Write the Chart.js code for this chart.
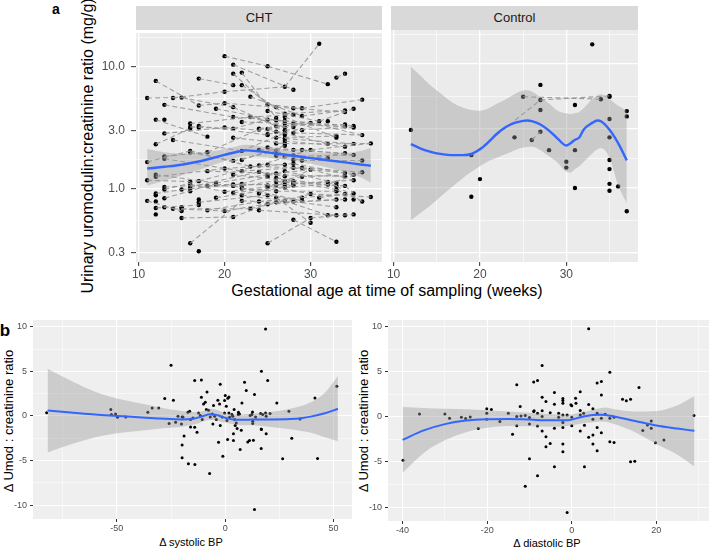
<!DOCTYPE html>
<html>
<head>
<meta charset="utf-8">
<script src="https://cdn.jsdelivr.net/npm/chart.js@4.4.1/dist/chart.umd.min.js"></script>
<style>
  body { margin: 0; width: 710px; height: 550px; background: #fff; position: relative; overflow: hidden;
         font-family: "Liberation Sans", Arial, Helvetica, sans-serif; }
  canvas { position: absolute; }
  .t { position: absolute; white-space: nowrap; color: #000; line-height: 1; transform: translate(-50%, -50%); }
  .rot { transform: translate(-50%, -50%) rotate(-90deg); }
  .strip { position: absolute; background: #d9d9d9; color: #1a1a1a; font-size: 13px; text-align: center; line-height: 24px; height: 24px; }
</style>
</head>
<body>
<div class="t" style="left:56px;top:9px;font-size:14px;font-weight:bold">a</div>
<div class="strip" style="left:136px;top:6px;width:246px">CHT</div>
<div class="strip" style="left:391px;top:6px;width:247px">Control</div>
<div class="t rot" style="left:88px;top:146px;font-size:16px">Urinary uromodulin:creatinine ratio (mg/g)</div>
<div class="t" style="left:387px;top:291px;font-size:16px">Gestational age at time of sampling (weeks)</div>
<div class="t" style="left:5px;top:330px;font-size:17px;font-weight:bold">b</div>
<div class="t rot" style="left:8px;top:421px;font-size:13px">Δ Umod : creatinine ratio</div>
<div class="t" style="left:191px;top:542px;font-size:11px">Δ systolic BP</div>
<div class="t rot" style="left:363px;top:421px;font-size:13px">Δ Umod : creatinine ratio</div>
<div class="t" style="left:547px;top:543px;font-size:11px">Δ diastolic BP</div>

<script>
const FONT = '"Liberation Sans", Arial, Helvetica, sans-serif';

// ---- panel a: CHT, samples grouped by gestational week
const chtWeeks = [11, 12, 13, 14, 15, 16, 17, 18, 19, 20, 21, 22, 23, 24, 25, 26, 27, 28, 29, 30, 31, 32, 33, 34, 35, 36, 37];
const chtValues = [
  [5.55, 1.66, 1.18, 0.80],
  [7.66, 3.69, 2.32, 1.31, 1.26, 0.92, 0.89, 0.79, 0.70, 0.62],
  [4.88, 3.69, 2.85, 1.85, 1.77, 1.04, 0.99, 0.84, 0.71],
  [5.55, 2.52, 0.69],
  [5.59, 0.99, 0.71, 0.69, 0.66, 0.58],
  [3.43, 3.22, 3.12, 2.05, 1.99, 1.15, 1.09, 1.04, 1.01, 0.96, 0.36],
  [8.0, 4.82, 3.28, 3.18, 1.16, 0.82, 0.78, 0.74, 0.31],
  [2.68, 2.00, 1.40, 1.06, 0.67],
  [4.53, 1.12, 1.09, 0.85],
  [12.2, 6.25, 5.03, 3.18, 1.47, 0.95, 0.66],
  [10.4, 8.78, 7.07, 4.67, 3.88, 3.12, 2.63, 1.70, 1.31, 1.09, 1.06, 0.93, 0.59],
  [8.95, 7.07, 3.53, 2.05, 1.73, 1.40, 1.10, 1.06, 1.01, 0.89, 0.80],
  [5.69, 3.88, 1.53, 0.69],
  [3.12, 3.07, 2.09, 1.56, 1.38, 0.92, 0.79, 0.67],
  [10.1, 4.91, 4.34, 3.69, 3.10, 2.81, 2.76, 2.19, 1.58, 1.31, 1.26, 1.07, 1.04, 0.89, 0.75, 0.36],
  [4.67, 3.81, 3.65, 3.28, 2.94, 2.63, 2.36, 2.05, 1.87, 1.34, 1.23, 1.15, 1.08, 0.96, 0.85, 0.78],
  [6.85, 4.13, 3.88, 3.60, 3.43, 3.22, 3.03, 2.88, 2.76, 2.59, 2.47, 2.36, 2.26, 1.85, 1.58, 1.40, 1.27, 1.16, 1.09, 1.03, 0.80],
  [6.49, 4.58, 4.05, 3.43, 3.22, 2.88, 2.09, 1.88, 1.73, 1.61, 1.49, 1.16, 1.11, 1.07, 0.79, 0.56],
  [4.58, 3.95, 3.03, 2.09, 1.71, 1.49, 1.26, 0.85, 0.80],
  [3.47, 2.09, 1.44, 0.91, 0.58, 0.53],
  [15.4, 3.58, 0.85],
  [7.2, 3.58, 2.34, 1.79, 1.14, 1.09, 0.61],
  [8.15, 2.71, 2.63, 1.12, 1.06, 0.99, 0.96, 0.82, 0.71, 0.61, 0.37],
  [8.78, 4.39, 4.26, 3.37, 3.26, 2.22, 1.96, 1.35, 1.27, 1.06, 0.91, 0.82, 0.61],
  [4.53, 3.28, 3.18, 2.34, 1.90, 1.31, 1.18, 0.92, 0.82, 0.62],
  [5.38, 2.76, 1.71, 1.37, 0.79],
  [2.36, 0.86]
];
// repeated samples of the same woman: [week1, value1, week2, value2]
const chtLinks = [
  [11, 5.55, 15, 5.59], [11, 1.66, 16, 2.05], [11, 1.18, 16, 1.15], [11, 0.80, 15, 0.66],
  [12, 7.66, 17, 4.82], [12, 3.69, 18, 2.68], [12, 2.32, 16, 3.12], [12, 1.31, 19, 1.12],
  [12, 0.92, 16, 1.01], [12, 0.70, 17, 0.74], [13, 4.88, 21, 3.88], [13, 2.85, 20, 3.18],
  [13, 1.85, 18, 2.00], [13, 1.04, 19, 1.09], [13, 0.84, 18, 1.06], [13, 1.77, 22, 1.40],
  [14, 2.52, 22, 2.05], [14, 0.69, 20, 0.66], [15, 5.59, 21, 4.67], [15, 0.99, 22, 1.10],
  [15, 0.58, 21, 0.59], [16, 3.43, 23, 3.88], [16, 1.99, 21, 1.70], [16, 1.04, 24, 1.38],
  [16, 0.36, 22, 0.80], [16, 3.22, 21, 3.12], [17, 8.0, 21, 7.07], [17, 3.28, 25, 2.76],
  [17, 1.16, 24, 1.56], [17, 0.78, 25, 0.89], [18, 1.40, 26, 1.34], [18, 0.67, 24, 0.79],
  [18, 2.00, 24, 3.07], [19, 4.53, 26, 3.65], [19, 0.85, 27, 1.03], [19, 1.09, 26, 1.08],
  [20, 12.2, 25, 10.1], [20, 6.25, 27, 6.85], [20, 5.03, 26, 4.67], [20, 1.47, 28, 1.61],
  [20, 0.95, 25, 1.04], [21, 10.4, 28, 6.49], [21, 8.78, 25, 4.91], [21, 2.63, 27, 2.36],
  [21, 1.31, 28, 1.16], [21, 1.06, 29, 0.80], [22, 8.95, 26, 3.81], [22, 3.53, 28, 3.43],
  [22, 1.73, 27, 2.26], [22, 1.01, 26, 0.96], [22, 2.05, 27, 2.88], [23, 5.69, 29, 3.95],
  [23, 1.53, 29, 1.49], [23, 0.69, 30, 0.91], [23, 3.88, 28, 4.05], [24, 3.12, 30, 3.47],
  [24, 2.09, 29, 2.09], [24, 0.92, 30, 1.44], [24, 0.67, 33, 0.61], [24, 1.56, 30, 2.09],
  [25, 10.1, 32, 7.2], [25, 4.34, 31, 3.58], [25, 3.10, 32, 2.34], [25, 2.19, 28, 2.09],
  [25, 1.31, 34, 1.27], [25, 0.36, 30, 0.58], [26, 3.28, 34, 3.37], [26, 2.63, 33, 2.71],
  [26, 1.87, 32, 1.79], [26, 1.23, 33, 1.06], [26, 0.85, 30, 0.53], [27, 6.85, 31, 15.4],
  [27, 4.13, 34, 4.39], [27, 3.03, 35, 3.18], [27, 1.85, 35, 1.90], [27, 1.40, 33, 1.12],
  [27, 0.80, 32, 0.61], [28, 4.58, 34, 4.26], [28, 2.88, 36, 2.76], [28, 1.73, 34, 1.96],
  [28, 1.11, 35, 1.18], [28, 0.56, 33, 0.37], [29, 4.58, 36, 5.38], [29, 1.71, 36, 1.71],
  [29, 1.26, 35, 1.31], [29, 0.85, 34, 0.91], [30, 2.09, 37, 2.36], [30, 0.91, 37, 0.86],
  [31, 3.58, 35, 4.53], [32, 1.09, 36, 1.37], [33, 8.15, 34, 8.78], [33, 0.99, 36, 0.79],
  [34, 1.06, 35, 0.92],
  [20, 3.18, 26, 2.94], [20, 0.66, 27, 0.80], [21, 4.67, 26, 3.28], [21, 3.88, 27, 3.60],
  [21, 3.12, 25, 3.69], [21, 1.70, 26, 2.05], [21, 1.09, 27, 1.09], [21, 0.93, 28, 1.07],
  [21, 0.59, 25, 0.75], [22, 7.07, 27, 4.13], [22, 1.40, 28, 1.49], [22, 1.10, 25, 1.26],
  [22, 1.06, 29, 1.26], [22, 0.89, 28, 0.79], [22, 0.80, 26, 0.78], [23, 3.88, 27, 3.22],
  [24, 3.07, 28, 3.22], [24, 1.38, 27, 1.27], [24, 0.79, 29, 0.85], [25, 4.91, 29, 4.58],
  [25, 3.69, 30, 3.47], [25, 2.81, 29, 3.03], [25, 1.58, 27, 1.58], [25, 1.07, 30, 0.91],
  [25, 0.89, 29, 0.80], [25, 0.75, 33, 0.82], [26, 4.67, 28, 4.58], [26, 3.65, 35, 3.28],
  [26, 2.36, 32, 2.34], [26, 2.05, 29, 1.71], [26, 1.34, 30, 1.44], [26, 1.15, 34, 1.06],
  [26, 1.08, 32, 1.14], [26, 0.96, 33, 0.96], [26, 0.78, 34, 0.82], [27, 3.88, 33, 2.63],
  [27, 3.43, 34, 3.26], [27, 2.59, 35, 2.34], [27, 2.47, 34, 2.22], [27, 1.16, 33, 0.99],
  [27, 1.03, 32, 1.09], [28, 3.43, 35, 3.18], [28, 2.09, 34, 1.96], [28, 1.61, 35, 1.31],
  [28, 1.49, 34, 1.35], [28, 0.79, 33, 0.71], [29, 3.95, 34, 4.39], [29, 2.09, 35, 1.90],
  [29, 1.49, 36, 1.37], [30, 3.47, 36, 2.76], [30, 1.44, 35, 1.18], [30, 0.58, 35, 0.62],
  [32, 2.34, 37, 2.36], [32, 0.61, 33, 0.61], [31, 0.85, 34, 0.91], [33, 1.06, 36, 0.79],
  [12, 1.26, 20, 1.47], [13, 0.99, 17, 1.16], [15, 0.69, 23, 0.69], [16, 2.05, 23, 1.53],
  [17, 4.82, 20, 5.03], [18, 1.06, 22, 1.06], [19, 1.12, 25, 1.31], [14, 5.55, 20, 6.25],
  [16, 1.09, 20, 0.95]
];
const chtFitX  = [11, 13, 15, 17, 19, 21, 22.5, 24, 26, 28, 30, 32, 34, 36, 37];
const chtFitY  = [1.47, 1.52, 1.58, 1.68, 1.82, 1.98, 2.07, 2.03, 1.95, 1.87, 1.79, 1.72, 1.65, 1.58, 1.55];
const chtFitHi = [2.12, 2.00, 1.95, 1.98, 2.06, 2.20, 2.30, 2.25, 2.13, 2.05, 2.00, 1.98, 1.98, 2.06, 2.16];
const chtFitLo = [1.07, 1.17, 1.29, 1.43, 1.60, 1.77, 1.86, 1.84, 1.78, 1.70, 1.61, 1.50, 1.38, 1.23, 1.13];

// ---- panel a: Control
const ctlWeeks = [12, 19, 20, 24, 25, 26, 27, 28, 30, 31, 33, 34, 35, 36, 37];
const ctlValues = [
  [2.94], [1.84, 0.85], [1.18], [2.56], [5.45], [2.44], [6.78, 5.12, 4.26, 2.84], [2.02],
  [1.63, 1.46], [4.67, 2.02, 1.0], [14.4], [5.2], [5.53, 5.45, 3.6, 2.56, 1.68, 1.42, 1.08, 0.95],
  [1.03], [4.17, 3.78, 0.65]
];
const ctlLinks = [[19, 1.84, 27, 5.12], [25, 5.45, 34, 5.2], [27, 5.12, 35, 5.53], [26, 2.44, 27, 2.84]];
const ctlFitX  = [12, 13, 14, 15, 16, 17, 18, 19, 20, 21, 22, 23, 24, 25, 25.5, 26, 27, 28, 29, 30, 30.5, 31, 31.5, 32, 33, 33.6, 34, 35, 36, 37];
const ctlFitY  = [2.26, 2.1, 1.98, 1.9, 1.86, 1.84, 1.84, 1.88, 2.05, 2.35, 2.75, 3.1, 3.35, 3.48, 3.5, 3.46, 3.25, 2.9, 2.5, 2.2, 2.3, 2.45, 2.55, 2.95, 3.35, 3.5, 3.45, 2.95, 2.3, 1.67];
const ctlFitHi = [9.5, 8.2, 7.0, 6.1, 5.4, 4.8, 4.45, 4.25, 4.2, 4.4, 4.8, 5.2, 5.7, 6.1, 6.15, 6.0, 5.4, 4.8, 4.2, 4.0, 3.95, 4.0, 4.1, 4.4, 5.2, 5.6, 5.7, 5.2, 4.6, 4.2];
const ctlFitLo = [0.55, 0.62, 0.70, 0.80, 0.92, 1.05, 1.2, 1.35, 1.5, 1.65, 1.76, 1.88, 2.02, 2.12, 2.14, 2.15, 2.02, 1.8, 1.6, 1.35, 1.33, 1.42, 1.5, 1.62, 1.9, 2.05, 2.1, 1.75, 1.05, 0.75];

const aXTicks = [10, 15, 20, 25, 30, 35];
const aXMajor = [10, 20, 30];
const aYTicks = [0.3, 0.5477, 1, 1.732, 3, 5.477, 10, 17.32];
const aYMajor = [0.3, 1, 3, 10];

// ---- panel b: [delta BP, delta Umod:creatinine]
const sbpPoints = [
  [-82.4, 0.37], [-52.8, 0.71], [-52.5, 0.15], [-50.6, 0.22], [-49.7, -0.15], [-45.9, -0.11], [-35.7, 0.41],
  [-33.7, 0.9], [-30.7, 0.9], [-27.9, 1.94], [-25.9, -0.86], [-25, 5.67], [-23.9, 1.75], [-22.9, -0.71],
  [-21.8, -0.04], [-20.2, -0.9], [-19.9, -0.11], [-19.5, -0.11], [-19, -2.24], [-19.9, -3.25], [-19.9, -4.7],
  [-17.2, 0.41], [-16.4, 0.52], [-17, -5.37], [-16, -0.41], [-16, -1.23], [-14.9, -0.22], [-14.1, 3.96],
  [-14.1, -1.27], [-14, -5.45], [-13, -1.83], [-12.3, 0.34], [-11.5, 0.04], [-11, 4.03], [-11, 2.09],
  [-10, 1.34], [-10.6, -0.41], [-9.2, 1.53], [-8.7, 0.71], [-8.4, 2.69], [-7.7, 0.63], [-7.2, -6.46],
  [-6.9, -0.11], [-6, 0.22], [-5.4, 1.16], [-5.7, -0.9], [-4.9, -0.04], [-4.1, -0.41], [-3.4, 1.75],
  [-3.1, -2.95], [-2.6, 1.34], [-2.3, 3.54], [-2.3, -1.08], [-1.4, -0.11], [-1.1, -4.51], [-0.3, 1.72],
  [-0.3, 0.34], [0, 2.28], [0.5, 1.08], [0.8, -0.52], [1.1, -2.65], [1.2, 1.98], [1.7, 2.13], [1.7, 0.34],
  [2, -0.15], [3.1, 0.15], [3.5, -0.04], [3.8, -2.01], [3.8, -2.76], [4.1, 0.71], [4.3, -0.41], [4.6, -1.08],
  [5.1, -0.78], [5.5, -1.42], [6, 0.15], [6.1, 0.41], [6.6, 0.22], [6.9, -3.77], [7.7, 1.46], [7.4, -1.6],
  [8.9, 3.77], [9.7, 2.84], [10.4, -2.91], [11.2, -2.76], [11.5, 0.04], [12.3, 0.15], [12.6, 0.45],
  [12.7, -0.6], [12.7, -0.86], [13, -2.72], [13.5, 2.39], [13.5, -10.49], [14, -0.11], [16.3, 0.26],
  [16.6, -1.46], [16.6, -3.66], [16.7, 5.0], [16.7, -1.53], [17.3, 0.15], [18.6, 9.74], [18.6, 0.34],
  [18.9, -0.04], [18.9, -2.01], [19.6, 3.96], [20.7, 0.26], [23.8, 1.46], [26.5, -4.81], [29.4, 0.52],
  [30.7, -2.5], [34.5, -0.34], [41.4, 2.01], [42.6, -4.78], [51.5, 3.32]
];
const sbpFitX  = [-82, -70, -60, -50, -40, -30, -20, -15, -12, -10, -7, -4, -2, 0, 5, 10, 12, 20, 30, 35, 40, 46, 52];
const sbpFitY  = [0.6, 0.35, 0.15, 0.0, -0.15, -0.3, -0.4, -0.32, -0.15, 0.0, 0.18, 0.12, -0.05, -0.2, -0.42, -0.42, -0.41, -0.4, -0.35, -0.25, -0.05, 0.3, 0.8];
const sbpFitHi = [5.3, 3.8, 2.7, 1.95, 1.45, 0.95, 0.55, 0.45, 0.45, 0.55, 0.8, 0.7, 0.5, 0.35, 0.15, 0.22, 0.25, 0.4, 0.8, 1.1, 1.6, 2.6, 4.5];
const sbpFitLo = [-4.1, -3.1, -2.4, -1.95, -1.7, -1.4, -1.2, -1.0, -0.8, -0.6, -0.45, -0.5, -0.65, -0.75, -1.0, -1.05, -1.05, -1.2, -1.5, -1.7, -1.9, -2.4, -2.85];

const dbpPoints = [
  [-39.9, -4.8], [-36, 0.33], [-30, 0.33], [-28.9, -0.15], [-26.1, -0.04], [-25.1, -0.19], [-24, 0],
  [-22.1, -1.3], [-20.1, 0.89], [-20.1, 0.41], [-20.1, -0.26], [-19, 0.82], [-17, -0.52], [-15, 0.41],
  [-14, -1.93], [-13, 3.57], [-13, 0.04], [-13, -0.97], [-12.2, 1.15], [-12, 0.11], [-11, 0.15], [-11, -7.7],
  [-10, -0.07], [-10, -0.78], [-10, -4.65], [-9, 3.87], [-9, 0.59], [-8.9, 0.67], [-8.1, 4.05], [-8.1, 0.41],
  [-8.1, -1.0], [-8.1, -6.54], [-7, 5.69], [-7, 2.19], [-7, 0.67], [-7, 0.04], [-7, -1.56], [-6.1, 1.71],
  [-6.1, -2.19], [-6.1, -3.31], [-5.1, 0.45], [-5.1, -2.94], [-4.1, 2.71], [-4.1, 1.41], [-4.1, -1.26],
  [-4.1, -5.54], [-3.1, 0.41], [-3.1, -0.04], [-2.1, 2.04], [-2.1, 1.82], [-2.1, 1.52], [-2.1, 0.22],
  [-2.1, -0.63], [-2.1, -1.19], [-2.1, -3.01], [-2.1, -3.87], [-1.1, 0.22], [-1.1, -10.6], [-0.2, 1.34],
  [0, 1.23], [0, -0.04], [0, -0.97], [0.9, 2.08], [1, 1.52], [2, 2.79], [2, 0.71], [2, 0.22], [2, -1.56],
  [2.8, 0.41], [3, -0.93], [3, -5.54], [4, 1.38], [4, -2.27], [4, 9.78], [5, 0.89], [5, -0.26], [5, -2.0],
  [5, -3.01], [6, 3.75], [6, 0.41], [6, -1.19], [6, -3.75], [7, 3.94], [7, 2.42], [7, -0.15], [7, -1.75],
  [7.9, 0.3], [9, 4.94], [9, -0.15], [9, -2.75], [10, -0.04], [10, -2.83], [12, 1.97], [12.9, 1.78],
  [13.9, 1.97], [13.9, -4.98], [14.9, -4.91], [15.9, 3.27], [16.8, -1.52], [17.9, -0.89], [18.8, -0.45],
  [18.8, -1.26], [19.8, -2.86], [21.8, -2.57], [28.9, 0.15]
];
const dbpFitX  = [-40, -35, -30, -25, -20, -15, -10, -5, -1, 2, 5, 7, 8, 10, 15, 20, 25, 29];
const dbpFitY  = [-2.55, -1.5, -0.8, -0.4, -0.25, -0.22, -0.3, -0.38, -0.38, -0.05, 0.2, 0.25, 0.22, 0.05, -0.45, -0.95, -1.3, -1.55];
const dbpFitHi = [1.1, 1.0, 0.9, 0.85, 0.75, 0.6, 0.45, 0.3, 0.25, 0.5, 0.8, 1.0, 1.05, 0.85, 0.6, 0.65, 1.3, 2.3];
const dbpFitLo = [-6.2, -4.0, -2.6, -1.7, -1.2, -1.0, -1.05, -1.1, -1.0, -0.75, -0.6, -0.5, -0.55, -0.8, -1.7, -3.0, -4.2, -5.5];

const bYTicks = [-10, -7.5, -5, -2.5, 0, 2.5, 5, 7.5, 10];
const bYMajor = [-10, -5, 0, 5, 10];
const sbpTicks = [-75, -50, -25, 0, 25, 50];
const sbpMajor = [-50, 0, 50];
const dbpTicks = [-40, -30, -20, -10, 0, 10, 20, 30];
const dbpMajor = [-40, -20, 0, 20];

// grey panel behind the grid
const panelBg = {
  id: 'panelBg',
  beforeDraw(chart, args, opts) {
    const { ctx, chartArea: a } = chart;
    ctx.save();
    ctx.fillStyle = opts.color;
    ctx.fillRect(a.left, a.top, a.right - a.left, a.bottom - a.top);
    ctx.restore();
  }
};

const PAD = { top: 10, right: 12, bottom: 0, left: 10 };

function ggAxis(o) {
  const isX = o.pos === 'bottom';
  const isMajor = c => c.tick && o.major.includes(c.tick.value);
  return {
    type: o.type || 'linear', position: o.pos, min: o.min, max: o.max,
    afterBuildTicks: s => { s.ticks = o.ticks.map(v => ({ value: v })); },
    afterFit: s => { if (isX) s.height = o.size; else s.width = o.size; },
    border: { display: false },
    grid: {
      color: '#ffffff',
      lineWidth: c => isMajor(c) ? o.majorW : o.minorW,
      drawTicks: o.labels,
      tickLength: o.tickLen,
      tickWidth: 1,
      tickColor: c => isMajor(c) ? '#333333' : 'rgba(0,0,0,0)'
    },
    ticks: {
      display: o.labels, autoSkip: false, maxRotation: 0, padding: o.pad, color: '#4d4d4d',
      font: { family: FONT, size: o.font },
      callback: v => o.major.includes(v) ? o.fmt(v) : ''
    }
  };
}

function pts(xs, ys) { return xs.map((x, i) => ({ x: x, y: ys[i] })); }

function fitSets(fx, fy, hi, lo, width) {
  return [
    { data: pts(fx, fy), borderColor: '#3366ff', borderWidth: width, pointRadius: 0, fill: false, cubicInterpolationMode: 'monotone' },
    { data: pts(fx, hi), borderWidth: 0, pointRadius: 0, fill: '+1', backgroundColor: 'rgba(153,153,153,0.4)', cubicInterpolationMode: 'monotone' },
    { data: pts(fx, lo), borderWidth: 0, pointRadius: 0, fill: false, cubicInterpolationMode: 'monotone' }
  ];
}

function linkSets(links) {
  return links.map(l => ({
    data: [{ x: l[0], y: l[1] }, { x: l[2], y: l[3] }],
    borderColor: 'rgba(150,150,150,0.9)', borderWidth: 1.1, borderDash: [5, 3], pointRadius: 0, fill: false
  }));
}

function pointSet(data, r) {
  return { data: data, showLine: false, pointRadius: r, pointBorderWidth: 0, pointBackgroundColor: '#000', borderColor: '#000' };
}

function weekPoints(weeks, values) {
  const out = [];
  weeks.forEach((w, i) => values[i].forEach(v => out.push({ x: w, y: v })));
  return out;
}

function makeChart(area, yWidth, xHeight, bg, datasets, xAxis, yAxis) {
  const c = document.createElement('canvas');
  const w = PAD.left + yWidth + area.w + PAD.right;
  const h = PAD.top + area.h + xHeight;
  c.width = w; c.height = h;
  c.style.width = w + 'px'; c.style.height = h + 'px';
  c.style.left = (area.x - PAD.left - yWidth) + 'px';
  c.style.top = (area.y - PAD.top) + 'px';
  document.body.appendChild(c);
  return new Chart(c, {
    type: 'line',
    data: { datasets: datasets },
    options: {
      responsive: false, animation: false, events: [],
      layout: { padding: PAD },
      plugins: { legend: { display: false }, tooltip: { enabled: false }, panelBg: { color: bg } },
      scales: { x: xAxis, y: yAxis }
    },
    plugins: [panelBg]
  });
}

const aX = labels => ggAxis({ pos: 'bottom', min: 9.7, max: 38.3, ticks: aXTicks, major: aXMajor, fmt: v => String(v),
  labels: true, size: 22, tickLen: 4, pad: 1, font: 12, majorW: 1.3, minorW: 0.6 });
const aY = labels => ggAxis({ pos: 'left', type: 'logarithmic', min: 0.253, max: 18.8, ticks: aYTicks, major: aYMajor,
  fmt: v => v.toFixed(1), labels: labels, size: labels ? 40 : 0, tickLen: 5, pad: 6, font: 12, majorW: 1.3, minorW: 0.6 });

// CHT facet
makeChart({ x: 136, y: 30, w: 246, h: 232 }, 40, 22, '#ebebeb',
  [].concat(fitSets(chtFitX, chtFitY, chtFitHi, chtFitLo, 2.4), linkSets(chtLinks), [pointSet(weekPoints(chtWeeks, chtValues), 2.2)]),
  aX(true), aY(true));

// Control facet
makeChart({ x: 391, y: 30, w: 247, h: 232 }, 0, 22, '#ebebeb',
  [].concat(fitSets(ctlFitX, ctlFitY, ctlFitHi, ctlFitLo, 2.4), linkSets(ctlLinks), [pointSet(weekPoints(ctlWeeks, ctlValues), 2.2)]),
  aX(true), aY(false));

const bY = () => ggAxis({ pos: 'left', min: -11.55, max: 10.75, ticks: bYTicks, major: bYMajor, fmt: v => String(v),
  labels: true, size: 33, tickLen: 3, pad: 3, font: 9, majorW: 1, minorW: 0.5 });

// systolic
makeChart({ x: 33, y: 320, w: 319, h: 199 }, 33, 18, '#efefef',
  [].concat(fitSets(sbpFitX, sbpFitY, sbpFitHi, sbpFitLo, 2),
    [pointSet(sbpPoints.map(p => ({ x: p[0], y: p[1] })), 1.5)]),
  ggAxis({ pos: 'bottom', min: -88.7, max: 58.5, ticks: sbpTicks, major: sbpMajor, fmt: v => String(v),
    labels: true, size: 18, tickLen: 3, pad: 1, font: 9, majorW: 1, minorW: 0.5 }),
  bY());

// diastolic
makeChart({ x: 389, y: 320, w: 320, h: 201 }, 34, 18, '#efefef',
  [].concat(fitSets(dbpFitX, dbpFitY, dbpFitHi, dbpFitLo, 2),
    [pointSet(dbpPoints.map(p => ({ x: p[0], y: p[1] })), 1.5)]),
  ggAxis({ pos: 'bottom', min: -43.45, max: 32.45, ticks: dbpTicks, major: dbpMajor, fmt: v => String(v),
    labels: true, size: 18, tickLen: 3, pad: 1, font: 9, majorW: 1, minorW: 0.5 }),
  bY());
</script>
</body>
</html>
